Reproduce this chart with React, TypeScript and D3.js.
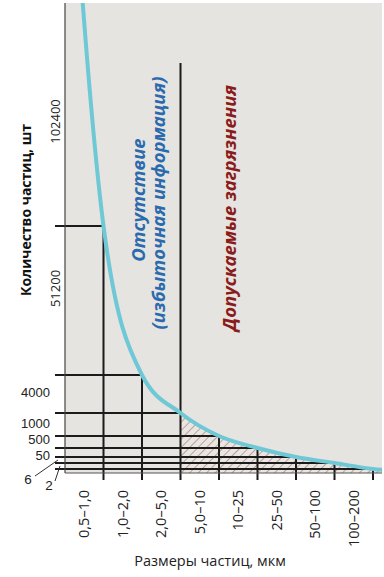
import React from "react";
import * as d3 from "d3";

// Size categories (µm) along the bottom axis
const sizeRanges = ["0,5–1,0", "1,0–2,0", "2,0–5,0", "5,0–10", "10–25", "25–50", "50–100", "100–200"];
// Particle count per size band
const classCounts = [102400, 51200, 4000, 1000, 500, 50, 6, 2];
// Curve values at the category boundaries 0.5, 1, 2, 5, 10, 25, 50, 100, 200, 400 µm
const curveCounts = [204800, 102400, 51200, 4000, 1000, 500, 50, 6, 2, 1];
// Band labels: rotated ones, horizontal ones, ones with leader lines
const rotatedBandLabels = ["102400", "51200"];
const plainBandLabels = ["4000", "1000", "500", "50"];
const leaderBandLabels = ["6", "2"];
// Index of the boundary that separates the two zones (5,0 µm)
const zoneBoundary = 3;

const W = 384;
const H = 577;
const L = 65;
const R = 382;
const T = 3;
const B = 473;

const FONT = "'Open Sans', 'Noto Sans', sans-serif";
const NUMFONT = "'Liberation Sans', Arial, sans-serif";

export default function App() {
  const x = d3.scaleLinear().domain([0, sizeRanges.length]).range([L, 373]);
  // Schematic (non-uniform) count axis of the original figure
  const y = d3
    .scaleLinear()
    .domain([0, 1, 2, 6, 50, 500, 1000, 4000, 51200, 102400, 204800])
    .range([B, 471.5, 469, 463, 457, 448, 436, 413, 375, 226, -245]);

  const pts: [number, number][] = curveCounts.map((c, i) => [x(i), y(c)]);
  const line = d3.line().curve(d3.curveMonotoneX)(pts) || "";
  const area =
    d3
      .area()
      .x((d: any) => d[0])
      .y0(B)
      .y1((d: any) => d[1])
      .curve(d3.curveMonotoneX)(pts) || "";

  const bandTop = (i: number) => (i === 0 ? T : y(classCounts[i - 1]));
  const bandMid = (i: number) => (bandTop(i) + y(classCounts[i])) / 2;

  const ink = "#1b1b1b";
  const plainShift = [3, 3.5, 2, 7];
  const rotShift = [7, -12];

  return (
    <svg width={W} height={H} style={{ position: "absolute", left: 0, top: 0, background: "#fff" }}>
      <defs>
        <clipPath id="plot">
          <rect x={L} y={T} width={R - L} height={B - T} />
        </clipPath>
        <clipPath id="zone">
          <rect x={x(zoneBoundary)} y={T} width={R - x(zoneBoundary)} height={B - T} />
        </clipPath>
        <pattern id="hatch" width={6} height={6} patternUnits="userSpaceOnUse" patternTransform="rotate(45)">
          <rect width={6} height={6} fill="#ebe5e1" />
          <line x1={0} y1={0} x2={0} y2={6} stroke="#8e6a62" strokeWidth={1.1} />
        </pattern>
      </defs>

      <rect x={L} y={T} width={R - L} height={B - T} fill="#e5e4e0" />
      <path d={area} fill="url(#hatch)" clipPath="url(#zone)" />

      {/* horizontal band lines, from the left tick to the curve */}
      {classCounts.map((c, i) => (
        <line key={"h" + i} x1={55} x2={x(i + 1)} y1={y(c)} y2={y(c)} stroke={ink} strokeWidth={2} />
      ))}
      {/* vertical boundary lines, from the curve down to the tick */}
      {classCounts.map((c, i) => (
        <line
          key={"v" + i}
          x1={x(i + 1)}
          x2={x(i + 1)}
          y1={i + 1 === zoneBoundary ? 63 : y(c)}
          y2={480}
          stroke={ink}
          strokeWidth={2}
        />
      ))}

      <path d={line} fill="none" stroke="#6ec8d6" strokeWidth={4} clipPath="url(#plot)" />

      <line x1={L} x2={L} y1={T} y2={B} stroke="#444" strokeWidth={1.2} />
      <line x1={L} x2={R} y1={B} y2={B} stroke="#555" strokeWidth={1} />

      {/* band labels */}
      {rotatedBandLabels.map((s, i) => (
        <text
          key={"rb" + i}
          transform={`translate(60,${bandMid(i) + rotShift[i]}) rotate(-90)`}
          textAnchor="middle"
          fontFamily={FONT}
          fontSize={13}
          fill="#222"
        >
          {s}
        </text>
      ))}
      {plainBandLabels.map((s, i) => (
        <text
          key={"pb" + i}
          x={50}
          y={bandMid(i + rotatedBandLabels.length) + plainShift[i]}
          textAnchor="end"
          fontFamily={NUMFONT}
          fontSize={13}
          fill="#222"
        >
          {s}
        </text>
      ))}
      {leaderBandLabels.map((s, i) => {
        const k = i + rotatedBandLabels.length + plainBandLabels.length;
        const ym = bandMid(k);
        const tx = i === 0 ? 28 : 49;
        const ty = i === 0 ? 484 : 490;
        return (
          <g key={"lb" + i}>
            <line
              x1={i === 0 ? 35 : 55}
              y1={i === 0 ? 476 : 481}
              x2={i === 0 ? 58 : 60}
              y2={ym}
              stroke="#333"
              strokeWidth={1}
            />
            <text x={tx} y={ty} textAnchor="middle" fontFamily={NUMFONT} fontSize={13.5} fill="#222">
              {s}
            </text>
          </g>
        );
      })}

      {/* size labels */}
      {sizeRanges.map((s, i) => (
        <text
          key={"x" + i}
          transform={`translate(${x(i + 0.5) + 5},490) rotate(-90)`}
          textAnchor="end"
          fontFamily={FONT}
          fontSize={14.5}
          fill="#222"
        >
          {s}
        </text>
      ))}

      {/* axis titles */}
      <text
        transform="translate(31,210) rotate(-90)"
        textAnchor="middle"
        fontFamily={FONT}
        fontWeight="bold"
        fontSize={14}
        fill="#111"
      >
        Количество частиц, шт
      </text>
      <text x={210} y={566} textAnchor="middle" fontFamily={FONT} fontSize={14.5} fill="#222">
        Размеры частиц, мкм
      </text>

      {/* zone annotations */}
      <text
        transform="translate(145,200) rotate(-90)"
        textAnchor="middle"
        fontFamily={FONT}
        fontWeight="bold"
        fontStyle="italic"
        fontSize={18.5}
        fill="#2b6aad"
      >
        Отсутствие
      </text>
      <text
        transform="translate(165,203) rotate(-90)"
        textAnchor="middle"
        fontFamily={FONT}
        fontWeight="bold"
        fontStyle="italic"
        fontSize={18.5}
        fill="#2b6aad"
      >
        (избыточная информация)
      </text>
      <text
        transform="translate(236,208) rotate(-90)"
        textAnchor="middle"
        fontFamily={FONT}
        fontWeight="bold"
        fontStyle="italic"
        fontSize={18.5}
        fill="#8a1c1c"
      >
        Допускаемые загрязнения
      </text>
    </svg>
  );
}
